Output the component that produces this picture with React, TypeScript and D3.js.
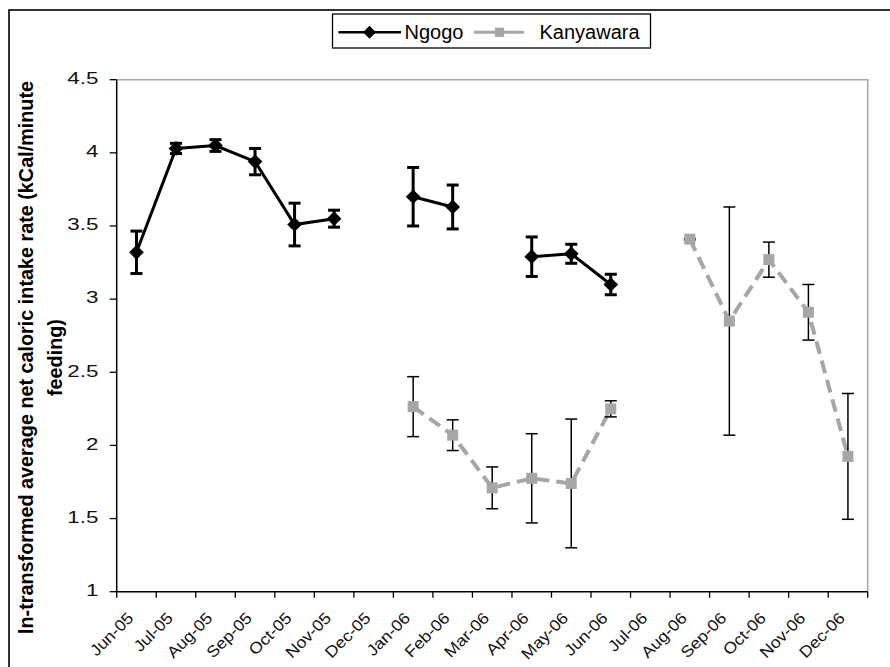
import { useEffect, useRef } from 'react'
import * as d3 from 'd3'

// Ngogo vs Kanyawara: ln-transformed net caloric intake rate per month, mean ± error
const MONTHS = [
  'Jun-05', 'Jul-05', 'Aug-05', 'Sep-05', 'Oct-05', 'Nov-05', 'Dec-05',
  'Jan-06', 'Feb-06', 'Mar-06', 'Apr-06', 'May-06', 'Jun-06', 'Jul-06',
  'Aug-06', 'Sep-06', 'Oct-06', 'Nov-06', 'Dec-06',
]
const NGOGO = [3.32, 4.03, 4.05, 3.94, 3.51, 3.55, null, 3.70, 3.63, null, 3.29, 3.31, 3.10, null, null, null, null, null, null]
const NGOGO_ERR = [0.145, 0.035, 0.04, 0.09, 0.146, 0.058, null, 0.2, 0.15, null, 0.135, 0.065, 0.07, null, null, null, null, null, null]
const KANYAWARA = [null, null, null, null, null, null, null, 2.265, 2.07, 1.71, 1.775, 1.74, 2.25, null, 3.41, 2.85, 3.27, 2.91, 1.925]
const KANYAWARA_ERR = [null, null, null, null, null, null, null, 0.205, 0.105, 0.143, 0.305, 0.44, 0.055, null, 0.005, 0.78, 0.12, 0.19, 0.43]
const Y_TICKS = [1, 1.5, 2, 2.5, 3, 3.5, 4, 4.5]
const SERIES_NAMES = ['Ngogo', 'Kanyawara']
const Y_TITLE = ['ln-transformed average net caloric intake rate (kCal/minute', 'feeding)']

const FONT = '"Liberation Sans", Arial, sans-serif'
const GREY = '#a6a6a6'

export default function App() {
  const ref = useRef<SVGSVGElement>(null)

  useEffect(() => {
    const svg = d3.select(ref.current)
    svg.selectAll('*').remove()
    const W = 890, H = 667
    const L = 116.7, R = 867.7, T = 79.7, B = 591.7

    const x = d3.scaleBand<string>().domain(MONTHS).range([L, R])
    const cx = (i: number) => (x(MONTHS[i]) as number) + x.bandwidth() / 2
    const y = d3.scaleLinear().domain([1, 4.5]).range([B, T])

    svg.attr('width', W).attr('height', H).attr('viewBox', `0 0 ${W} ${H}`)
    svg.append('rect').attr('width', W).attr('height', H).attr('fill', '#fff')

    // chart frame, cropped on the right/bottom like the original
    svg.append('rect').attr('x', 9).attr('y', 10).attr('width', 920).attr('height', 720)
      .attr('fill', 'none').attr('stroke', '#000').attr('stroke-width', 1.6)

    // plot area border (grey top/right)
    svg.append('path').attr('d', `M${L},${y(4.5)}H${R}V${B}`)
      .attr('fill', 'none').attr('stroke', '#a8a8a8').attr('stroke-width', 1.6)

    // y axis
    const yAxis = svg.append('g')
    yAxis.append('line').attr('x1', L).attr('x2', L).attr('y1', T).attr('y2', B)
      .attr('stroke', '#000').attr('stroke-width', 1.5)
    yAxis.selectAll('line.tick').data(Y_TICKS).join('line').attr('class', 'tick')
      .attr('x1', L - 7).attr('x2', L).attr('y1', d => y(d)).attr('y2', d => y(d))
      .attr('stroke', '#000').attr('stroke-width', 1.3)
    yAxis.selectAll('text').data(Y_TICKS).join('text')
      .attr('transform', d => `translate(98.5,${y(d) + 4.3}) scale(1.4,1)`)
      .attr('text-anchor', 'end').attr('font-family', FONT).attr('font-size', 16)
      .attr('fill', '#111').text(d => String(d))

    // x axis: ticks between categories
    const xAxis = svg.append('g')
    xAxis.append('line').attr('x1', L).attr('x2', R).attr('y1', B).attr('y2', B)
      .attr('stroke', '#000').attr('stroke-width', 1.5)
    const bounds = MONTHS.map(m => x(m) as number).concat([R])
    xAxis.selectAll('line.tick').data(bounds).join('line').attr('class', 'tick')
      .attr('x1', d => d).attr('x2', d => d).attr('y1', B).attr('y2', B + 6)
      .attr('stroke', '#000').attr('stroke-width', 1.3)
    xAxis.selectAll('text').data(MONTHS).join('text')
      .attr('transform', (d, i) => `translate(${cx(i) - 2},619) rotate(-45) scale(1.1,1)`)
      .attr('text-anchor', 'end').attr('font-family', FONT).attr('font-size', 16)
      .attr('fill', '#111').text(d => d)

    // y title
    svg.append('g').selectAll('text').data(Y_TITLE).join('text')
      .attr('transform', (d, i) => `translate(${i === 0 ? 33 : 62},357.5) rotate(-90)`)
      .attr('text-anchor', 'middle').attr('font-family', FONT).attr('font-weight', 700)
      .attr('font-size', 19.8).attr('fill', '#000').text(d => d)

    const line = d3.line<number | null>()
      .defined(d => d != null)
      .x((d, i) => cx(i))
      .y(d => y(d as number))

    const plot = svg.append('g')
    plot.append('path').datum(KANYAWARA).attr('d', line)
      .attr('fill', 'none').attr('stroke', GREY).attr('stroke-width', 4)
      .attr('stroke-dasharray', '13,7')
    plot.append('path').datum(NGOGO).attr('d', line)
      .attr('fill', 'none').attr('stroke', '#000').attr('stroke-width', 3)

    function errorBars(vals: (number | null)[], errs: (number | null)[], width: number) {
      const pts = vals.map((v, i) => ({ v, e: errs[i], i })).filter(p => p.v != null && p.e != null)
      const g = plot.append('g').attr('stroke', '#000').attr('stroke-width', width)
      pts.forEach(p => {
        const v = p.v as number, e = p.e as number
        const px = cx(p.i)
        g.append('line').attr('x1', px).attr('x2', px).attr('y1', y(v + e)).attr('y2', y(v - e))
        g.append('line').attr('x1', px - 6).attr('x2', px + 6).attr('y1', y(v + e)).attr('y2', y(v + e))
        g.append('line').attr('x1', px - 6).attr('x2', px + 6).attr('y1', y(v - e)).attr('y2', y(v - e))
      })
    }
    errorBars(KANYAWARA, KANYAWARA_ERR, 1.5)
    errorBars(NGOGO, NGOGO_ERR, 3)

    const square = d3.symbol().type(d3.symbolSquare)
    plot.append('g').selectAll('path')
      .data(KANYAWARA.map((v, i) => ({ v, i })).filter(d => d.v != null)).join('path')
      .attr('d', square.size(121)())
      .attr('transform', d => `translate(${cx(d.i)},${y(d.v as number)})`)
      .attr('fill', GREY)
    plot.append('g').selectAll('path')
      .data(NGOGO.map((v, i) => ({ v, i })).filter(d => d.v != null)).join('path')
      .attr('d', d3.symbol().type(d3.symbolSquare).size(108)())
      .attr('transform', d => `translate(${cx(d.i)},${y(d.v as number)}) rotate(45)`)
      .attr('fill', '#000')

    // legend
    const lg = svg.append('g')
    lg.append('rect').attr('x', 332.5).attr('y', 14).attr('width', 318).attr('height', 34)
      .attr('fill', '#fff').attr('stroke', '#000').attr('stroke-width', 1.3)
    lg.append('line').attr('x1', 338.5).attr('x2', 401).attr('y1', 32.3).attr('y2', 32.3)
      .attr('stroke', '#000').attr('stroke-width', 2.5)
    lg.append('path').attr('d', d3.symbol().type(d3.symbolSquare).size(85)())
      .attr('transform', 'translate(369.5,32.3) rotate(45)').attr('fill', '#000')
    lg.append('line').attr('x1', 474).attr('x2', 524).attr('y1', 32.3).attr('y2', 32.3)
      .attr('stroke', GREY).attr('stroke-width', 3)
    lg.append('path').attr('d', d3.symbol().type(d3.symbolSquare).size(85)())
      .attr('transform', 'translate(499.5,32.3)').attr('fill', GREY)
    lg.selectAll('text').data(SERIES_NAMES).join('text')
      .attr('x', (d, i) => (i === 0 ? 404.5 : 539.5)).attr('y', 38.5)
      .attr('font-family', FONT).attr('font-size', 20).attr('fill', '#000').text(d => d)
  }, [])

  return (
    <div style={{ position: 'fixed', left: 0, top: 0 }}>
      <svg ref={ref} style={{ display: 'block' }} />
    </div>
  )
}
